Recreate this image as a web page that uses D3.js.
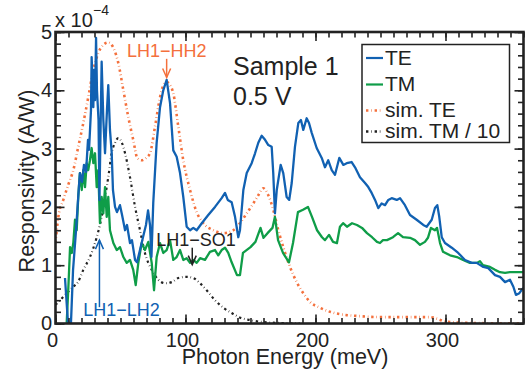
<!DOCTYPE html>
<html>
<head>
<meta charset="utf-8">
<script src="https://cdn.jsdelivr.net/npm/d3@7"></script>
<style>
  html, body { margin: 0; padding: 0; background: #fff; }
</style>
</head>
<body>
<div id="chart"></div>
<script>
// measured TE responsivity [meV, 1e-4 A/W]
const teData = [
  [7.3,0.78],[9.6,0.01],[11.9,0.01],[13.5,0.92],[15.8,1.60],[18.1,2.38],[18.8,2.58],[20.4,2.43],
  [21.9,2.72],[23.5,2.60],[25,3.15],[25.8,2.98],[27.3,3.66],[27.8,4.57],[29.1,3.71],[29.6,4.35],
  [30.4,3.83],[31.2,4.90],[31.9,4.00],[33.1,3.49],[33.8,2.12],[35.5,4.49],[36.8,3.49],[38.1,2.92],
  [39.6,3.66],[40.6,4.09],[41.9,3.32],[43.2,2.94],[44.2,2.29],[45.8,2.00],[47.3,1.91],[49.6,2.03],
  [51.2,1.86],[53.5,1.60],[55,1.69],[57.3,1.38],[58.8,1.43],[61.2,1.09],[62.7,1.05],[65,1.26],
  [67.3,1.48],[69.6,1.69],[71.2,1.94],[72.7,1.69],[73.8,1.14],[75.2,2.07],[77.8,3.10],[80.4,3.71],
  [82.9,4.00],[85.5,4.18],[88.1,3.78],[90.6,2.97],[93.2,2.86],[95.8,2.58],[98.3,2.17],[100.9,1.66],
  [103.5,1.60],[106,1.64],[108.6,1.60],[112.5,1.72],[117.5,1.86],[122.7,2.00],[127.8,2.15],[130.4,2.24],
  [132.5,2.12],[135.5,2.08],[138.1,1.83],[140.6,1.48],[141.9,1.60],[144.5,2.29],[147.1,2.58],[150.9,2.75],
  [153.5,2.92],[156,3.10],[158.6,3.22],[161.2,3.15],[163.7,3.06],[166.3,3.03],[167.5,2.58],[168.8,1.89],
  [170.2,2.29],[173.2,2.72],[175.2,2.58],[177.8,2.17],[179.8,2.12],[181.7,2.41],[184.2,3.03],[186.8,3.44],
  [188.8,3.49],[190.6,3.32],[193.2,3.52],[195,3.44],[197.1,3.27],[200.9,3.01],[204.8,2.84],[207.3,2.68],
  [209.8,2.80],[212.5,2.63],[215,2.55],[218.3,2.84],[221.4,2.72],[224,2.75],[227.8,2.77],[230.4,2.68],
  [234.2,2.51],[238.1,2.41],[240.6,2.34],[243.2,2.24],[245.8,2.12],[248.3,1.98],[250.9,2.06],[253.5,2.03],
  [256,2.12],[258.6,2.15],[262.5,2.12],[265,2.15],[268.8,2.03],[272.7,1.86],[277.8,1.78],[282.9,1.69],
  [285.5,1.66],[289.4,1.78],[291.9,1.98],[293.7,2.03],[295.2,1.83],[297.1,1.48],[299.6,1.38],[304.8,1.30],
  [309.8,1.21],[315,1.09],[320.2,1.04],[324,1.04],[329.1,0.97],[332.9,0.95],[338.1,0.83],[341.9,0.80],
  [345.8,0.71],[349.6,0.75],[352.2,0.63],[354.2,0.49],[356.8,0.52],[359.8,0.61]
];

// measured TM responsivity
const tmData = [
  [8.6,0.01],[9.8,0.57],[11.2,1.31],[12.5,1.21],[13.7,1.38],[15,1.78],[16.3,1.60],[17.5,2.17],
  [18.8,2.58],[20.2,2.29],[21.4,2.63],[22.7,2.34],[24,2.75],[25.2,2.63],[26.5,2.80],[27.8,3.01],
  [29.1,2.75],[30.4,2.92],[31.7,2.34],[32.9,2.63],[34.2,1.72],[35.5,2.17],[36.8,1.89],[38.1,2.34],
  [39.4,1.83],[40.6,2.17],[41.9,1.60],[44.5,1.38],[47.1,1.26],[49.6,1.31],[52.2,1.14],[54.8,1.04],
  [57.3,1.09],[59.8,0.92],[61.7,0.66],[63.7,1.04],[66.3,1.38],[68.8,1.26],[71.4,1.40],[74,1.04],
  [75.8,0.57],[77.8,1.14],[80.4,1.38],[82.9,1.21],[85.5,1.26],[88.1,1.43],[90.6,1.09],[93.2,1.14],
  [95.8,1.26],[98.3,1.09],[100.9,1.12],[103.5,1.04],[106,1.09],[108.6,1.04],[111.2,1.12],[115,1.09],
  [118.8,1.23],[122.7,1.26],[125.2,1.17],[127.8,1.26],[130.4,1.30],[132.9,1.21],[135.5,1.05],[139.6,0.83],
  [141.9,0.83],[144.2,1.21],[150,1.31],[153.8,1.40],[157.7,1.64],[160,1.47],[163.1,1.55],[166.9,1.64],
  [168.8,1.83],[171.2,1.43],[175,1.21],[179.6,1.05],[182.7,1.38],[186.5,1.91],[190.4,1.95],[194.2,2.00],
  [197.3,1.83],[201.2,1.60],[205,1.48],[207.3,1.43],[210.4,1.52],[213.5,1.40],[216.5,1.38],[218.8,1.66],
  [221.2,1.72],[224.2,1.66],[228.1,1.72],[231.9,1.69],[235.8,1.64],[239.6,1.55],[243.5,1.48],[247.3,1.40],
  [249.6,1.38],[251.9,1.43],[255,1.43],[259.6,1.48],[263.5,1.55],[267.3,1.48],[272.7,1.47],[276.5,1.43],
  [280.4,1.35],[284.2,1.40],[286.5,1.47],[288.8,1.64],[291.9,1.60],[293.5,1.64],[295.8,1.38],[298.1,1.23],
  [303.5,1.17],[308.8,1.14],[313.5,1.09],[318.8,1.04],[324.2,1.04],[326.5,1.07],[328.8,1.00],[334.2,0.97],
  [338.1,0.92],[341.9,0.88],[345.8,0.87],[349.6,0.88],[352.3,0.88],[356.2,0.88],[359.6,0.88]
];

// simulated TE
const simTeData = [
  [0,1.38],[2.2,1.83],[6,2.12],[9.8,2.38],[13.7,2.63],[17.5,3.03],[21.4,3.44],[25.2,3.88],
  [29.1,4.35],[32.9,4.64],[36.8,4.78],[40.6,4.82],[44.5,4.73],[48.3,4.47],[52.2,4.00],[56,3.54],
  [59.8,3.15],[62.9,2.84],[66.3,2.80],[69.6,2.84],[72.7,2.92],[76.5,3.37],[80.4,3.88],[83.1,4.09],
  [85.5,4.14],[88.1,4.09],[90.6,3.95],[94.5,3.37],[98.3,2.80],[103.5,2.29],[108.6,1.91],[113.7,1.72],
  [121.4,1.60],[129.1,1.55],[136.8,1.60],[141.9,1.72],[147.1,1.89],[152.2,2.06],[156,2.20],[159.8,2.32],
  [163.7,2.20],[167.5,1.95],[171.4,1.60],[175.2,1.31],[180.4,0.97],[185.5,0.71],[190.6,0.52],[195.8,0.37],
  [203.5,0.27],[211.2,0.20],[218.8,0.16],[231.7,0.13],[249.6,0.11],[288,0.11],[301,0.03],[318.8,0.01],
  [360,0.0]
];

// simulated TM divided by 10
const simTmData = [
  [0,0.32],[3.5,0.40],[8.6,0.52],[13.7,0.63],[17.3,0.71],[21.4,0.92],[26.5,1.14],[31.7,1.48],
  [35.5,1.83],[38.1,2.17],[40.6,2.51],[43.2,2.92],[45.8,3.10],[48.3,3.18],[50.9,3.11],[53.5,2.92],
  [57.3,2.51],[61.2,2.00],[65,1.60],[68.8,1.21],[74,0.92],[79.1,0.75],[84.2,0.69],[89.4,0.71],
  [94.5,0.78],[100.9,0.80],[106,0.78],[111.2,0.69],[116.3,0.57],[122.7,0.40],[129.1,0.27],[135.5,0.18],
  [143.2,0.09],[149.6,0.06],[157.3,0.03],[172.7,0.01],[188,0]
];

const xMajor = [0, 100, 200, 300];
const yMajor = [0, 1, 2, 3, 4, 5];
const legendNames = ["TE", "TM", "sim. TE", "sim. TM / 10"];

let width = 528;
let height = 372;
let font = "'Liberation Sans', Arimo, Arial, Helvetica, sans-serif";
let blue = "#1161b2", green = "#0f9d48", orange = "#f4703c", dark = "#222";
let dots = "2.4,2.8,0.6,2.8";

let x = d3.scaleLinear().domain([0, 360]).range([55.5, 523.5]);
let y = d3.scaleLinear().domain([0, 5]).range([323.5, 32]);

let svg = d3.select("#chart").append("svg")
  .attr("width", width)
  .attr("height", height)
  .attr("font-family", font)
  .style("font-family", font);

svg.append("clipPath").attr("id", "clip")
  .append("rect")
  .attr("x", x(0)).attr("y", y(5))
  .attr("width", x(360) - x(0)).attr("height", y(0) - y(5));

let line = d3.line().x(d => x(d[0])).y(d => y(d[1]));
let smooth = d3.line().x(d => x(d[0])).y(d => y(d[1])).curve(d3.curveMonotoneX);

let plot = svg.append("g").attr("clip-path", "url(#clip)");

plot.append("path").datum(simTmData)
  .attr("d", smooth).attr("fill", "none")
  .attr("stroke", dark).attr("stroke-width", 2.2)
  .attr("stroke-dasharray", dots);

plot.append("path").datum(simTeData)
  .attr("d", smooth).attr("fill", "none")
  .attr("stroke", orange).attr("stroke-width", 2.6)
  .attr("stroke-dasharray", dots);

plot.append("path").datum(tmData)
  .attr("d", line).attr("fill", "none")
  .attr("stroke", green).attr("stroke-width", 2.3)
  .attr("stroke-linejoin", "round");

plot.append("path").datum(teData)
  .attr("d", line).attr("fill", "none")
  .attr("stroke", blue).attr("stroke-width", 2.3)
  .attr("stroke-linejoin", "round");

// ticks, all pointing inward
function clean(g) {
  g.attr("font-family", font);
  g.select(".domain").remove();
  g.selectAll(".tick line").attr("stroke", dark).attr("stroke-width", 1.6);
  g.selectAll(".tick text").attr("font-size", 20).attr("fill", dark);
}
let xMinor = d3.range(0, 361, 10);
let yMinor = d3.range(0, 26).map(i => i * 0.2);

svg.append("g").attr("transform", "translate(0," + y(0) + ")")
  .call(d3.axisBottom(x).tickValues(xMinor).tickSize(-5.5).tickFormat("")).call(clean);
svg.append("g").attr("transform", "translate(0," + y(0) + ")")
  .call(d3.axisBottom(x).tickValues(xMajor).tickSize(-9).tickPadding(9.5).tickFormat(d3.format("d")))
  .call(clean)
  .call(g => g.selectAll(".tick text").attr("dx", -3.5));
svg.append("g").attr("transform", "translate(0," + y(5) + ")")
  .call(d3.axisTop(x).tickValues(xMinor).tickSize(-5.5).tickFormat("")).call(clean);
svg.append("g").attr("transform", "translate(0," + y(5) + ")")
  .call(d3.axisTop(x).tickValues(xMajor).tickSize(-9).tickFormat("")).call(clean);

svg.append("g").attr("transform", "translate(" + x(0) + ",0)")
  .call(d3.axisLeft(y).tickValues(yMinor).tickSize(-5.5).tickFormat("")).call(clean);
svg.append("g").attr("transform", "translate(" + x(0) + ",0)")
  .call(d3.axisLeft(y).tickValues(yMajor).tickSize(-9).tickPadding(3.5).tickFormat(d3.format("d")))
  .call(clean);
svg.append("g").attr("transform", "translate(" + x(360) + ",0)")
  .call(d3.axisRight(y).tickValues(yMinor).tickSize(-5.5).tickFormat("")).call(clean);
svg.append("g").attr("transform", "translate(" + x(360) + ",0)")
  .call(d3.axisRight(y).tickValues(yMajor).tickSize(-9).tickFormat("")).call(clean);

// frame
svg.append("rect")
  .attr("x", x(0)).attr("y", y(5))
  .attr("width", x(360) - x(0)).attr("height", y(0) - y(5))
  .attr("fill", "none").attr("stroke", dark).attr("stroke-width", 2.6);

function label(px, py, size, txt, color, anchor) {
  return svg.append("text")
    .attr("x", px).attr("y", py)
    .attr("font-size", size)
    .attr("font-family", font)
    .attr("fill", color || dark)
    .attr("text-anchor", anchor || "start")
    .text(txt);
}

// axis titles
label(285, 363.5, 21.5, "Photon Energy (meV)", dark, "middle");
label(0, 0, 21.5, "Responsivity (A/W)", dark, "middle")
  .attr("transform", "translate(34,181) rotate(-90)");

// exponent
label(55, 27, 20, "x 10");
label(93, 15, 14, "\u22124");

// sample label
label(233, 75, 25, "Sample 1");
label(233, 105, 25, "0.5 V");

// annotations with arrows
function arrow(xv, y1, y2, color) {
  let dir = y2 > y1 ? 1 : -1;
  svg.append("line")
    .attr("x1", x(xv)).attr("x2", x(xv)).attr("y1", y(y1)).attr("y2", y(y2))
    .attr("stroke", color).attr("stroke-width", 1.5);
  let tipY = y(y2);
  svg.append("polyline")
    .attr("points", [[x(xv) - 4, tipY + dir * 9], [x(xv), tipY], [x(xv) + 4, tipY + dir * 9]].join(" "))
    .attr("fill", "none").attr("stroke", color).attr("stroke-width", 1.5);
}
label(x(85.5), 57, 18, "LH1\u2212HH2", orange, "middle");
arrow(85.5, 4.54, 4.22, orange);

label(196, 246, 18, "LH1\u2212SO1", dark, "middle");
arrow(105.2, 1.30, 1.01, dark);

label(121.5, 316, 18, "LH1\u2212LH2", blue, "middle");
arrow(33.8, 0.28, 1.43, blue);

// legend
let legend = svg.append("g");
legend.append("rect")
  .attr("x", 362).attr("y", 44.5).attr("width", 147.5).attr("height", 98)
  .attr("fill", "#fff").attr("stroke", dark).attr("stroke-width", 1.5);
let legendColors = [blue, green, orange, dark];
let legendDash = [null, null, dots, dots];
let legendBase = [64.5, 91, 117, 138];
legendNames.forEach(function (name, i) {
  legend.append("line")
    .attr("x1", 366).attr("x2", 383)
    .attr("y1", legendBase[i] - 6.5).attr("y2", legendBase[i] - 6.5)
    .attr("stroke", legendColors[i]).attr("stroke-width", i < 2 ? 2.2 : 2.4)
    .attr("stroke-dasharray", legendDash[i]);
  label(385, legendBase[i], 21, name);
});
</script>
</body>
</html>
